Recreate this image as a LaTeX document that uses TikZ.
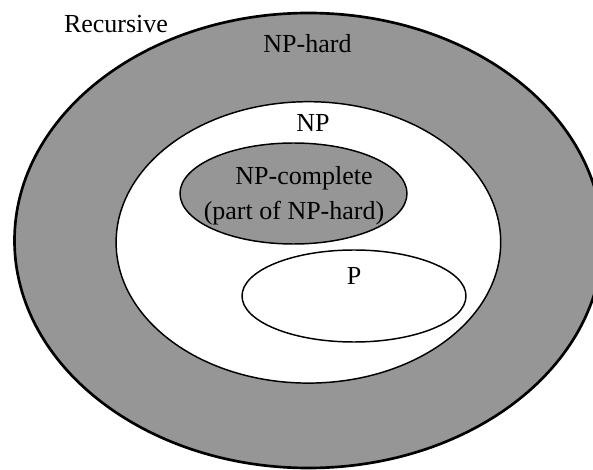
\documentclass[tikz,border=0pt]{standalone}
\usepackage{fontspec}
\setmainfont{Liberation Serif}
\definecolor{setgray}{RGB}{150,150,150}
\begin{document}
\begin{tikzpicture}[x=0.75pt,y=-0.75pt,
  setlabel/.style={anchor=base,inner sep=0pt,font=\fontsize{19.5pt}{23pt}\selectfont},
  outerset/.style={draw=black,line width=2pt,fill=setgray},
  innerset/.style={draw=black,line width=1.1pt}]
\useasboundingbox (0,0) rectangle (593,470);
\clip (0,0) rectangle (593,470);
% Recursive / NP-hard region
\coordinate (rec) at (308.5,240.5);
\draw[outerset] (rec) ellipse [x radius=294*0.75pt, y radius=227.5*0.75pt];
% NP
\coordinate (np) at (308.4,242.4);
\draw[innerset,fill=white] (np) ellipse [x radius=192.3*0.75pt, y radius=140.7*0.75pt];
% NP-complete
\coordinate (npc) at (293.5,193.5);
\draw[innerset,fill=setgray] (npc) ellipse [x radius=113.5*0.75pt, y radius=50.5*0.75pt];
% P
\coordinate (p) at (354,296);
\draw[innerset,fill=white] (p) ellipse [x radius=112*0.75pt, y radius=46*0.75pt];
% labels
\node[setlabel] (lrec) at (116,32.7) {Recursive};
\node[setlabel] (lnph) at (307.5,52.7) {NP-hard};
\node[setlabel] (lnp) at (313,131.7) {NP};
\node[setlabel] (lnpc) at (304,185) {NP-complete};
\node[setlabel] (lnpc2) at (294,220) {(part of NP-hard)};
\node[setlabel] (lp) at (354,285) {P};
\end{tikzpicture}
\end{document}
